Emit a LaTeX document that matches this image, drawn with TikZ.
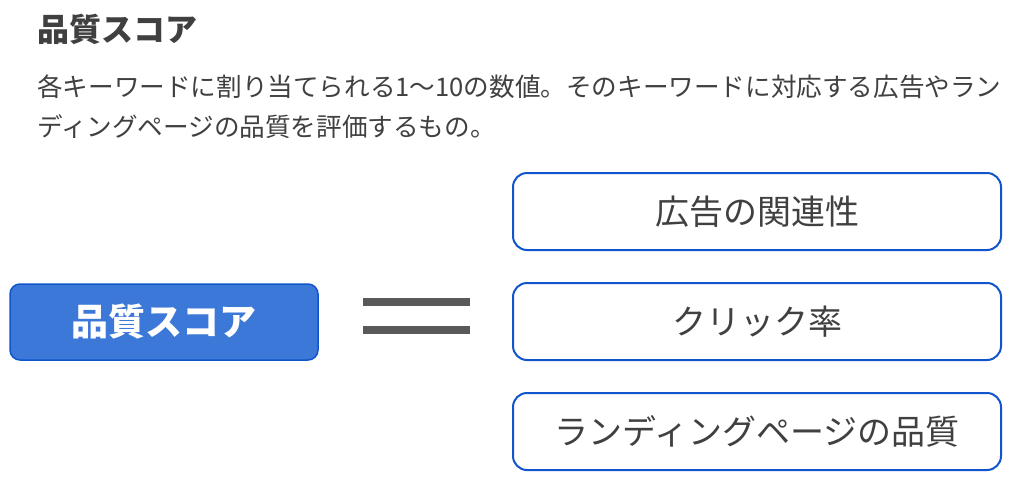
\documentclass[tikz,border=0pt]{standalone}
\usepackage{fontspec}
\setmainfont{Noto Sans CJK JP}
\newfontfamily\jpbold{Noto Sans CJK JP}[BoldFont={* Bold}]
\definecolor{txtgray}{HTML}{404040}
\definecolor{fillblue}{HTML}{3C78D8}
\definecolor{edgeblue}{HTML}{1155CC}
\definecolor{eqgray}{HTML}{595959}
\tikzset{
  rbox/.style={draw=edgeblue, line width=2pt, rounded corners=14pt, fill=white,
    minimum width=488pt, minimum height=77pt, inner sep=0pt,
    text=txtgray, font=\fontsize{34}{40}\selectfont},
  mainbox/.style={draw=edgeblue, line width=1.5pt, rounded corners=10pt, fill=fillblue,
    minimum width=308pt, minimum height=76pt, inner sep=0pt,
    text=white, font=\fontsize{37}{44}\selectfont\bfseries},
  eqbar/.style={fill=eqgray, draw=none, minimum width=107pt, minimum height=8pt, inner sep=0pt}
}
\begin{document}
\begin{tikzpicture}[x=1pt,y=-1pt]
\useasboundingbox[fill=white] (0,0) rectangle (1024,499);
\node[anchor=base west, inner sep=0pt, text=txtgray, font=\fontsize{32}{38}\selectfont\bfseries] (title) at (37,41) {品質スコア};
\node[anchor=base west, inner sep=0pt, text=txtgray, font=\fontsize{25.6}{30}\selectfont] (desc1) at (37,96) {各キーワードに割り当てられる1〜10の数値。そのキーワードに対応する広告やラン};
\node[anchor=base west, inner sep=0pt, text=txtgray, font=\fontsize{25.6}{30}\selectfont] (desc2) at (37,136) {ディングページの品質を評価するもの。};
\node[mainbox] (score) at (164,322) {品質スコア};
\node[eqbar] (eqtop) at (416.5,302) {};
\node[eqbar] (eqbot) at (416.5,330) {};
\node[rbox] (r1) at (757,211.5) {広告の関連性};
\node[rbox] (r2) at (757,321.5) {クリック率};
\node[rbox] (r3) at (757,431.5) {ランディングページの品質};
\end{tikzpicture}
\end{document}
